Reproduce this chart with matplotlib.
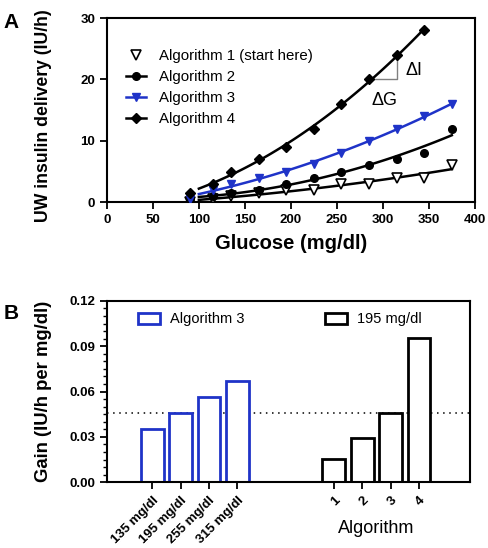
import numpy as np
import matplotlib
matplotlib.use("Agg")
import matplotlib.pyplot as plt
from matplotlib.lines import Line2D
from matplotlib.patches import Patch
from matplotlib.ticker import MultipleLocator

plt.rcParams["font.family"] = ["Liberation Sans", "DejaVu Sans"]

# panel A data
glucose = [90, 115, 135, 165, 195, 225, 255, 285, 315, 345, 375]
alg1 = [0, 0.5, 1.0, 1.5, 2.0, 2.0, 3.0, 3.0, 4.0, 4.0, 6.0]
alg2 = [0.5, 1.0, 1.5, 2.0, 3.0, 4.0, 5.0, 6.0, 7.0, 8.0, 12.0]
alg3 = [0.6, 2.0, 3.0, 4.0, 5.0, 6.3, 8.0, 10.0, 12.0, 14.0, 16.0]
glucose4 = [90, 115, 135, 165, 195, 225, 255, 285, 315, 345]
alg4 = [1.5, 3.0, 5.0, 7.0, 9.0, 12.0, 16.0, 20.0, 24.0, 28.0]

# panel B data
conc_labels = ["135 mg/dl", "195 mg/dl", "255 mg/dl", "315 mg/dl"]
gain_alg3 = [0.035, 0.0455, 0.0565, 0.067]
alg_labels = ["1", "2", "3", "4"]
gain_195 = [0.0155, 0.029, 0.0455, 0.0955]
ref_gain = 0.0455

BLUE = "#1f33c8"
TICK_FS = 9.5


def fit_line(ax, x, y, color):
    c = np.polyfit(x, y, 2)
    xs = np.linspace(100, max(x), 100)
    ax.plot(xs, np.polyval(c, xs), color=color, lw=1.8, zorder=2)


fig = plt.figure(figsize=(4.88, 5.48), dpi=100)
ax1 = fig.add_axes([0.219, 0.631, 0.754, 0.336])
ax2 = fig.add_axes([0.219, 0.120, 0.744, 0.331])

# ---- panel A
fit_line(ax1, glucose, alg1, "black")
fit_line(ax1, glucose, alg2, "black")
fit_line(ax1, glucose, alg3, BLUE)
fit_line(ax1, glucose4, alg4, "black")
ax1.plot(glucose, alg1, ls="none", marker="v", ms=7, mfc="white", mec="black", mew=1.2, zorder=3)
ax1.plot(glucose, alg2, ls="none", marker="o", ms=5.5, color="black", zorder=3)
ax1.plot(glucose, alg3, ls="none", marker="v", ms=5.5, color=BLUE, zorder=3)
ax1.plot(glucose4, alg4, ls="none", marker="D", ms=5, color="black", zorder=3)

# slope triangle
ax1.plot([285, 315, 315], [20, 20, 24], color="gray", lw=1, zorder=1)
ax1.text(325, 21.4, "\u0394I", fontsize=13, va="center", ha="left")
ax1.text(302, 16.6, "\u0394G", fontsize=13, va="center", ha="center")

ax1.set_xlim(0, 400)
ax1.set_ylim(0, 30)
ax1.xaxis.set_major_locator(MultipleLocator(50))
ax1.yaxis.set_major_locator(MultipleLocator(10))
ax1.set_xlabel("Glucose (mg/dl)", fontsize=14.5, fontweight="bold", labelpad=6)
ax1.set_ylabel("UW insulin delivery (IU/h)", fontsize=12.7, fontweight="bold")
ax1.yaxis.set_label_coords(-0.15, 0.47)

handles = [
    Line2D([], [], ls="none", marker="v", ms=7, mfc="white", mec="black", mew=1.2),
    Line2D([], [], color="black", lw=1.8, marker="o", ms=5.5),
    Line2D([], [], color=BLUE, lw=1.8, marker="v", ms=5.5),
    Line2D([], [], color="black", lw=1.8, marker="D", ms=5),
]
ax1.legend(handles, ["Algorithm 1 (start here)", "Algorithm 2", "Algorithm 3", "Algorithm 4"],
           loc="upper left", bbox_to_anchor=(0.035, 0.865), frameon=False, fontsize=10.8,
           handlelength=1.35, handletextpad=0.85, labelspacing=0.47, borderaxespad=0)

# ---- panel B
x1 = np.arange(len(gain_alg3))
x2 = np.arange(len(gain_195)) + 6.4
ax2.bar(x1, gain_alg3, width=0.8, facecolor="white", edgecolor=BLUE, lw=2)
ax2.bar(x2, gain_195, width=0.8, facecolor="white", edgecolor="black", lw=2)
ax2.axhline(ref_gain, color="black", ls=(0, (1, 3)), lw=1.1, zorder=0)

ax2.set_xlim(-1.6, 11.2)
ax2.set_ylim(0, 0.12)
ax2.yaxis.set_major_locator(MultipleLocator(0.03))
ax2.yaxis.set_minor_locator(MultipleLocator(0.005))
ax2.yaxis.set_major_formatter(plt.FormatStrFormatter("%.2f"))
ax2.set_xticks(list(x1) + list(x2))
ax2.set_xticklabels(conc_labels + alg_labels, rotation=45, ha="right",
                    rotation_mode="anchor", fontsize=TICK_FS, fontweight="bold")
ax2.set_ylabel("Gain (IU/h per mg/dl)", fontsize=13.3, fontweight="bold")
ax2.yaxis.set_label_coords(-0.152, 0.5)
ax2.text(x2.mean(), -0.0305, "Algorithm", fontsize=13, ha="center", va="center")

leg1 = ax2.legend([Patch(facecolor="white", edgecolor=BLUE, lw=2)], ["Algorithm 3"],
                  loc="upper left", bbox_to_anchor=(0.05, 1.01), frameon=False,
                  fontsize=10.5, handlelength=1.5, handleheight=0.8, handletextpad=0.7)
ax2.add_artist(leg1)
ax2.legend([Patch(facecolor="white", edgecolor="black", lw=2)], ["195 mg/dl"],
           loc="upper left", bbox_to_anchor=(0.565, 1.01), frameon=False,
           fontsize=10.5, handlelength=1.5, handleheight=0.8, handletextpad=0.7)

for ax in (ax1, ax2):
    for s in ax.spines.values():
        s.set_linewidth(1.5)
    ax.tick_params(which="major", direction="out", length=5, width=1.3)
    ax.tick_params(which="minor", direction="out", length=3, width=1)
    for lab in ax.get_yticklabels():
        lab.set_fontweight("bold")
        lab.set_fontsize(TICK_FS)
for lab in ax1.get_xticklabels():
    lab.set_fontweight("bold")
    lab.set_fontsize(TICK_FS)

fig.text(0.008, 0.977, "A", fontsize=15, fontweight="bold", va="top")
fig.text(0.008, 0.445, "B", fontsize=15, fontweight="bold", va="top")

fig.savefig("out.png", dpi=100)
